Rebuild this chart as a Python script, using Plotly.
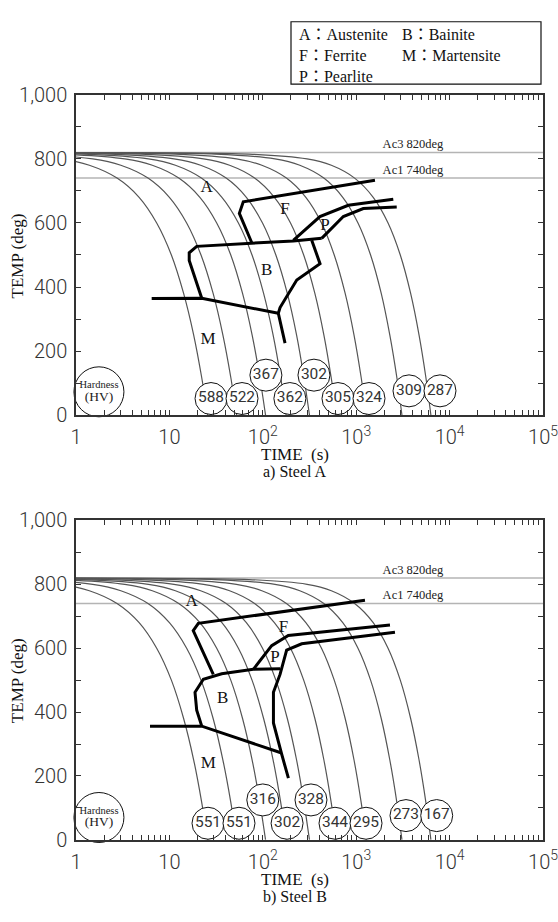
import plotly.graph_objects as go
from plotly.subplots import make_subplots

SERIF = "Liberation Serif, Noto Sans CJK JP, serif"
SANS = "Roboto, Liberation Sans, sans-serif"

# ---------------- data ----------------
# cooling curves: temperature levels (deg) and time (s) at which each curve reaches them
TEMP_LEVELS = [818, 815, 800, 780, 740, 680, 600, 500, 380, 250, 120, 0]
COOL_1 = [0.01, 0.125, 0.685, 1.39, 2.75, 4.74, 7.31, 10.5, 14.2, 18.2, 22.1, 25.7]
COOL_2 = [0.01, 0.285, 1.51, 3.02, 5.90, 10.0, 15.3, 21.8, 29.4, 37.4, 45.3, 52.5]
COOL_3 = [0.01, 0.650, 3.33, 6.56, 12.6, 21.2, 32.1, 45.4, 60.7, 76.9, 92.7, 107]
COOL_4 = [0.01, 1.21, 5.96, 11.6, 22.0, 36.5, 54.8, 76.7, 102, 129, 155, 178]
COOL_5 = [0.01, 2.33, 11.2, 21.6, 40.5, 66.7, 99.3, 138, 183, 230, 275, 316]
COOL_6 = [0.01, 4.95, 23.2, 44.1, 81.7, 133, 198, 274, 361, 451, 538, 617]
COOL_7 = [0.01, 11.6, 52.2, 97.7, 179, 289, 425, 582, 762, 948, 1127, 1288]
COOL_8 = [0.01, 31.0, 135, 249, 450, 718, 1045, 1426, 1854, 2291, 2716, 3090]
COOL_9 = [0.01, 71.0, 298, 542, 962, 1521, 2193, 2965, 3828, 4710, 5559, 6310]
COOLING = [COOL_1, COOL_2, COOL_3, COOL_4, COOL_5, COOL_6, COOL_7, COOL_8, COOL_9]

AC3, AC1 = 820, 740

# Steel A transformation lines (time s, temp deg)
A_FS_T = [1589, 61.8, 56.1, 76.0];           A_FS_Y = [733, 666, 630, 539]
A_BS_T = [22.2, 16.3, 16.3, 19.6, 212, 427]; A_BS_Y = [365, 483, 507, 527, 544, 552]
A_MS_T = [6.46, 22.2, 146.6];                A_MS_Y = [364, 365, 318]
A_PS_T = [212, 409, 822, 2495];              A_PS_Y = [546, 620, 655, 674]
A_PF_T = [427, 728, 1191, 2716];             A_PF_Y = [552, 620, 645, 650]
A_BF_T = [334, 410, 231, 153, 146.6, 173];   A_BF_Y = [546, 473, 422, 336, 318, 225]

# Steel B transformation lines
B_FS_T = [1242, 20.4, 18.0, 29.5];                 B_FS_Y = [750, 678, 655, 518]
B_BS_T = [22.2, 19.6, 18.8, 23.1, 36.3, 79.2, 153]; B_BS_Y = [356, 406, 462, 503, 520, 534, 536]
B_MS_T = [6.2, 22.2, 159];                         B_MS_Y = [356, 356, 272]
B_PS_T = [79.2, 124.5, 187.5, 2300];               B_PS_Y = [534, 608, 640, 673]
B_PF_T = [2601, 261, 180, 153, 130, 130, 159, 188]; B_PF_Y = [650, 614, 594, 518, 462, 366, 269, 193]

# phase labels
PHASES = ["A", "F", "P", "B", "M"]
A_PH_T = [25, 173, 464, 110, 25.9];  A_PH_Y = [711, 641, 590, 450, 234]
B_PH_T = [17.3, 166, 135, 37.2, 26.1]; B_PH_Y = [745, 665, 569, 442, 238]

# hardness (HV) circles
A_HV = ["588", "522", "367", "362", "302", "305", "324", "309", "287"]
A_HV_T = [27.9, 59.9, 108, 195, 353, 638, 1371, 3675, 7890]
A_HV_Y = [52, 52, 125, 52, 125, 52, 52, 76, 76]
B_HV = ["551", "551", "316", "302", "328", "344", "295", "273", "167"]
B_HV_T = [25.9, 55.6, 100, 182, 328, 593, 1274, 3413, 7278]
B_HV_Y = [52, 52, 125, 52, 125, 52, 52, 76, 76]
HV_KEY_T = 1.76
A_HV_KEY_Y = 73
B_HV_KEY_Y = 70

DECADES = [1, 10, 100, 1000, 10000]
X_LABELS = ["1", "10", "10<sup>2</sup>", "10<sup>3</sup>", "10<sup>4</sup>", "10<sup>5</sup>"]
Y_TICKS = [0, 100, 200, 300, 400, 500, 600, 700, 800, 900, 1000]
Y_LABELS = ["0", "", "200", "", "400", "", "600", "", "800", "", "1,000"]
AC_LABEL_T = 4055

# ---------------- figure ----------------
fig = make_subplots(rows=2, cols=1)

def line(row, x, y, color, width, shape="linear"):
    fig.add_trace(go.Scatter(x=x, y=y, mode="lines",
                             line=dict(color=color, width=width, shape=shape, smoothing=0.8),
                             hoverinfo="skip", showlegend=False), row=row, col=1)

def text(row, x, y, labels, font):
    fig.add_trace(go.Scatter(x=x, y=y, mode="text", text=labels, textfont=font,
                             textposition="middle center", cliponaxis=False,
                             hoverinfo="skip", showlegend=False), row=row, col=1)

panels = [
    (1, [(A_FS_T, A_FS_Y), (A_BS_T, A_BS_Y), (A_MS_T, A_MS_Y), (A_PS_T, A_PS_Y), (A_PF_T, A_PF_Y), (A_BF_T, A_BF_Y)],
     A_PH_T, A_PH_Y, A_HV, A_HV_T, A_HV_Y, A_HV_KEY_Y),
    (2, [(B_FS_T, B_FS_Y), (B_BS_T, B_BS_Y), (B_MS_T, B_MS_Y), (B_PS_T, B_PS_Y), (B_PF_T, B_PF_Y)],
     B_PH_T, B_PH_Y, B_HV, B_HV_T, B_HV_Y, B_HV_KEY_Y),
]

for row, blines, ph_t, ph_y, hv, hv_t, hv_y, key_y in panels:
    line(row, [1, 100000], [AC3, AC3], "#b4b4b4", 1.5)
    line(row, [1, 100000], [AC1, AC1], "#b4b4b4", 1.5)
    for times in COOLING:
        line(row, times, TEMP_LEVELS, "#555555", 1.2, "spline")
    for x, y in blines:
        line(row, x, y, "black", 3)
    text(row, [AC_LABEL_T, AC_LABEL_T], [843, 764], ["Ac3 820deg", "Ac1 740deg"],
         dict(family=SERIF, size=12.5, color="#222"))
    text(row, ph_t, ph_y, PHASES, dict(family=SERIF, size=17, color="#111"))
    fig.add_trace(go.Scatter(x=hv_t, y=hv_y, mode="markers+text", text=hv,
                             marker=dict(size=32, color="white", line=dict(color="#111", width=1)),
                             textposition="middle center",
                             textfont=dict(family=SANS, size=15.5, color="#333"),
                             cliponaxis=False, hoverinfo="skip", showlegend=False), row=row, col=1)
    fig.add_trace(go.Scatter(x=[HV_KEY_T], y=[key_y], mode="markers",
                             marker=dict(size=50, color="white", line=dict(color="#111", width=1)),
                             cliponaxis=False, hoverinfo="skip", showlegend=False), row=row, col=1)
    text(row, [HV_KEY_T], [key_y + 20], ["Hardness"], dict(family=SERIF, size=10.5, color="#222"))
    text(row, [HV_KEY_T], [key_y - 17], ["(HV)"], dict(family=SERIF, size=13.5, color="#222"))

xt = [k * d for d in DECADES for k in range(1, 10)] + [100000]
xtt = []
for d_i, d in enumerate(DECADES):
    for k in range(1, 10):
        xtt.append(X_LABELS[d_i] if k == 1 else "")
xtt.append(X_LABELS[-1])

axis_common = dict(showline=True, linecolor="#333", linewidth=1.5, mirror="ticks",
                   ticks="inside", ticklen=5, tickwidth=1, tickcolor="#333",
                   showgrid=False, zeroline=False,
                   tickfont=dict(family=SANS, size=20, color="#333", weight=300))

fig.update_xaxes(type="log", range=[0, 5], tickmode="array", tickvals=xt, ticktext=xtt,
                 domain=[0, 1], ticklabelstandoff=3, ticklabeloverflow="allow", **axis_common)
fig.update_yaxes(range=[0, 1000], tickmode="array", tickvals=Y_TICKS, ticktext=Y_LABELS,
                 ticklabelstandoff=3, ticklabeloverflow="allow", **axis_common)
fig.update_layout(yaxis=dict(domain=[0.5510, 0.9078]), yaxis2=dict(domain=[0.0781, 0.4338]))

def pxx(px):
    return (px - 76) / 467

def pyy(py):
    return (922 - py) / 922

ann = []
for cy, ty, sy, label in [(250, 454, 472, "a) Steel A"), (686, 891, 909, "b) Steel B")]:
    ann.append(dict(x=pxx(17), y=pyy(cy), text="TEMP (deg)", textangle=-90, showarrow=False,
                    xanchor="center", yanchor="middle",
                    xref="paper", yref="paper", font=dict(family=SERIF, size=17, color="#111")))
    ann.append(dict(x=pxx(295), y=pyy(ty), text="TIME  (s)", showarrow=False,
                    xanchor="center", yanchor="middle",
                    xref="paper", yref="paper", font=dict(family=SERIF, size=17, color="#111")))
    ann.append(dict(x=pxx(295), y=pyy(sy), text=label, showarrow=False,
                    xanchor="center", yanchor="middle",
                    xref="paper", yref="paper", font=dict(family=SERIF, size=16, color="#111")))

ann.append(dict(x=pxx(297), y=pyy(12), xanchor="left", yanchor="top", align="left",
                text="A：Austenite<br>F：Ferrite<br>P：Pearlite", showarrow=False,
                xref="paper", yref="paper", font=dict(family=SERIF, size=16, color="#111")))
ann.append(dict(x=pxx(400), y=pyy(12), xanchor="left", yanchor="top", align="left",
                text="B：Bainite<br>M：Martensite", showarrow=False,
                xref="paper", yref="paper", font=dict(family=SERIF, size=16, color="#111")))

fig.update_layout(
    width=558, height=922,
    margin=dict(l=76, r=15, t=0, b=0),
    paper_bgcolor="white", plot_bgcolor="white",
    showlegend=False,
    annotations=ann,
    shapes=[dict(type="rect", xref="paper", yref="paper",
                 x0=pxx(291), x1=pxx(541), y0=pyy(74), y1=pyy(10),
                 line=dict(color="#111", width=1.2), fillcolor="rgba(0,0,0,0)")],
)

fig.write_html("out.html", config={"displayModeBar": False},
               post_script="document.body.style.margin='0';document.body.style.overflow='hidden';")
